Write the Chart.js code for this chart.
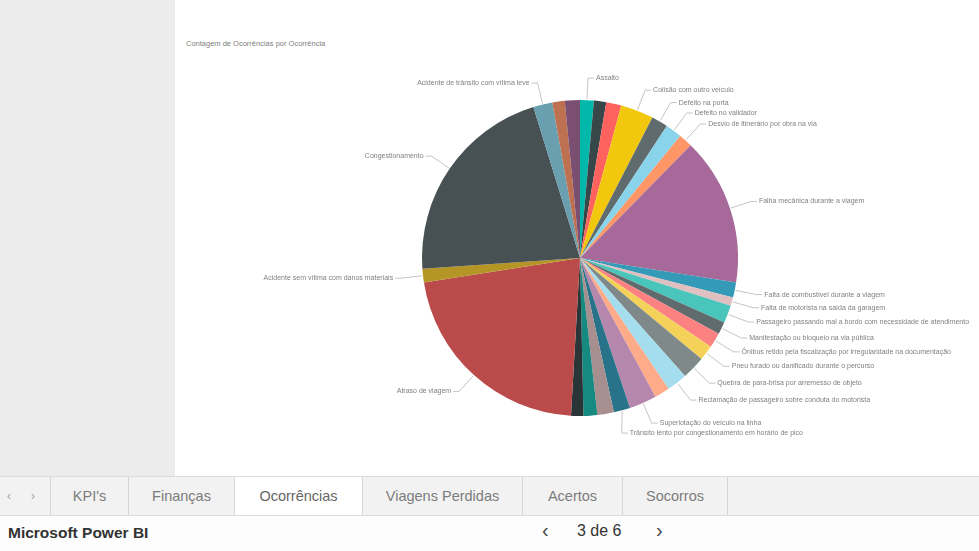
<!DOCTYPE html>
<html lang="pt-BR">
<head>
<meta charset="utf-8">
<title>Ocorrências</title>
<script src="https://cdn.jsdelivr.net/npm/chart.js@4.4.0/dist/chart.umd.min.js"></script>
<style>
  html, body { margin: 0; padding: 0; width: 979px; height: 551px; overflow: hidden; background: #fff;
    font-family: "Liberation Sans", Arial, sans-serif; }
  #side { position: absolute; left: 0; top: 0; width: 175px; height: 476px; background: #ececec; }
  #title { position: absolute; left: 186px; top: 39px; font-size: 7.5px; color: #808080; white-space: nowrap; }
  #chartBox { position: absolute; left: 0; top: 0; width: 979px; height: 476px; }
  #tabs { position: absolute; left: 0; top: 476px; width: 979px; height: 40px; background: #f2f2f2;
    border-top: 1px solid #dcdcdc; border-bottom: 1px solid #dcdcdc; box-sizing: border-box; }
  .tab { position: absolute; top: 0; height: 38px; line-height: 38px; text-align: center; font-size: 14.5px;
    color: #7c7c7c; border-left: 1px solid #d6d6d6; box-sizing: border-box; white-space: nowrap; }
  .tab.active { background: #fff; color: #666; }
  .arrow { position: absolute; top: 0; line-height: 38px; font-size: 12px; color: #a0a0a0; }
  #footer { position: absolute; left: 0; top: 516px; width: 979px; height: 35px; background: #fdfdfd; }
  #brand { position: absolute; left: 8px; top: 8px; font-size: 15.5px; font-weight: 600; color: #333; white-space: nowrap; }
  .pg { position: absolute; top: 6px; font-size: 16px; color: #333; white-space: nowrap; }
  .pg.nav { top: 3px; font-size: 20px; color: #444; }
</style>
</head>
<body>
<div id="side"></div>
<div id="title">Contagem de Ocorrências por Ocorrência</div>
<div id="chartBox"><canvas id="pieChart" width="979" height="476"></canvas></div>

<div id="tabs">
  <div class="arrow" style="left:7px">&lsaquo;</div>
  <div class="arrow" style="left:31px">&rsaquo;</div>
  <div class="tab" style="left:50px;width:78px">KPI's</div>
  <div class="tab" style="left:128px;width:106px">Finanças</div>
  <div class="tab active" style="left:234px;width:128px">Ocorrências</div>
  <div class="tab" style="left:362px;width:160px">Viagens Perdidas</div>
  <div class="tab" style="left:522px;width:100px">Acertos</div>
  <div class="tab" style="left:622px;width:106px;border-right:1px solid #d6d6d6">Socorros</div>
</div>
<div id="footer">
  <div id="brand">Microsoft Power BI</div>
  <div class="pg nav" style="left:542px">&lsaquo;</div>
  <div class="pg" style="left:577px">3 de 6</div>
  <div class="pg nav" style="left:656px">&rsaquo;</div>
</div>

<script>
// tipos de ocorrência, na ordem em que as fatias aparecem (sentido horário a partir do topo)
const categories = [
  'Assalto',
  'Atropelamento',
  'Briga a bordo',
  'Colisão com outro veículo',
  'Defeito na porta',
  'Defeito no validador',
  'Desvio de itinerário por obra na via',
  'Falha mecânica durante a viagem',
  'Falta de combustível durante a viagem',
  'Falta de motorista na saída da garagem',
  'Passageiro passando mal a bordo com necessidade de atendimento',
  'Manifestação ou bloqueio na via pública',
  'Ônibus retido pela fiscalização por irregularidade na documentação',
  'Pneu furado ou danificado durante o percurso',
  'Quebra de para-brisa por arremesso de objeto',
  'Reclamação de passageiro sobre conduta do motorista',
  'Roubo de cobrança',
  'Superlotação do veículo na linha',
  'Trânsito lento por congestionamento em horário de pico',
  'Vandalismo',
  'Veículo sem energia',
  'Vidro quebrado',
  'Atraso de viagem',
  'Acidente sem vítima com danos materiais',
  'Congestionamento',
  'Acidente de trânsito com vítima leve',
  'Abalroamento',
  'Acidente com vítima fatal'
];

const occurrenceCounts = [
  10, 9, 11, 24, 12, 12, 10, 108,
  11, 6, 13, 9, 11, 11, 17, 15, 11, 20, 12, 12, 10, 9,
  154, 10, 152, 14, 9, 11
];

// fatias que recebem rótulo (as demais ficam sem, como no Power BI)
const labelledSlices = [0, 3, 4, 5, 6, 7, 8, 9, 10, 11, 12, 13, 14, 15, 17, 18, 22, 23, 24, 25];

const sliceColors = [
  '#01B8AA', '#374649', '#FD625E', '#F2C80F', '#5F6B6D', '#8AD4EB', '#FE9666', '#A66999',
  '#3599B8', '#DFBFBF', '#4AC5BB', '#5F6B6D', '#FB8281', '#F4D25A', '#7F898A', '#A4DDEE',
  '#FDAB89', '#B687AC', '#28738A', '#A78F8F', '#168980', '#293537', '#BB4A4A', '#B59525',
  '#475052', '#6A9FB0', '#BD7150', '#7B4F71'
];

// rótulos externos com linha de chamada
const outsideLabels = {
  id: 'outsideLabels',
  afterDatasetsDraw(chart) {
    const ctx = chart.ctx;
    const meta = chart.getDatasetMeta(0);
    const right = [], left = [];
    let cx = 0, cy = 0, R = 0;

    meta.data.forEach((arc, i) => {
      if (!labelledSlices.includes(i)) return;
      const p = arc.getProps(['x', 'y', 'startAngle', 'endAngle', 'outerRadius'], true);
      cx = p.x; cy = p.y; R = p.outerRadius + 22;
      const mid = (p.startAngle + p.endAngle) / 2;
      const item = {
        text: chart.data.labels[i],
        ax: p.x + Math.cos(mid) * (p.outerRadius + 1),
        ay: p.y + Math.sin(mid) * (p.outerRadius + 1),
        y: p.y + Math.sin(mid) * R
      };
      (Math.cos(mid) >= 0 ? right : left).push(item);
    });

    const gap = 10;
    [right, left].forEach(side => {
      side.sort((a, b) => a.y - b.y);
      for (let k = 1; k < side.length; k++) {
        side[k].y = Math.max(side[k].y, side[k - 1].y + gap);
      }
    });

    ctx.save();
    ctx.font = '7px "Liberation Sans", Arial, sans-serif';
    ctx.textBaseline = 'middle';
    ctx.lineWidth = 1;
    ctx.strokeStyle = '#c4c4c4';
    ctx.fillStyle = '#808080';

    const draw = (item, dir) => {
      const dy = item.y - cy;
      const dx = Math.max(Math.sqrt(Math.max(R * R - dy * dy, 0)), 8);
      const ex = cx + dir * dx;
      ctx.beginPath();
      ctx.moveTo(item.ax, item.ay);
      ctx.lineTo(ex, item.y);
      ctx.lineTo(ex + dir * 6, item.y);
      ctx.stroke();
      ctx.textAlign = dir > 0 ? 'left' : 'right';
      ctx.fillText(item.text, ex + dir * 8, item.y);
    };
    right.forEach(it => draw(it, 1));
    left.forEach(it => draw(it, -1));
    ctx.restore();
  }
};

new Chart(document.getElementById('pieChart'), {
  type: 'pie',
  data: {
    labels: categories,
    datasets: [{
      data: occurrenceCounts,
      backgroundColor: sliceColors,
      borderWidth: 0
    }]
  },
  options: {
    responsive: false,
    animation: false,
    layout: { padding: { left: 422, right: 241, top: 100, bottom: 60 } },
    plugins: {
      legend: { display: false },
      tooltip: { enabled: false }
    }
  },
  plugins: [outsideLabels]
});
</script>
</body>
</html>
